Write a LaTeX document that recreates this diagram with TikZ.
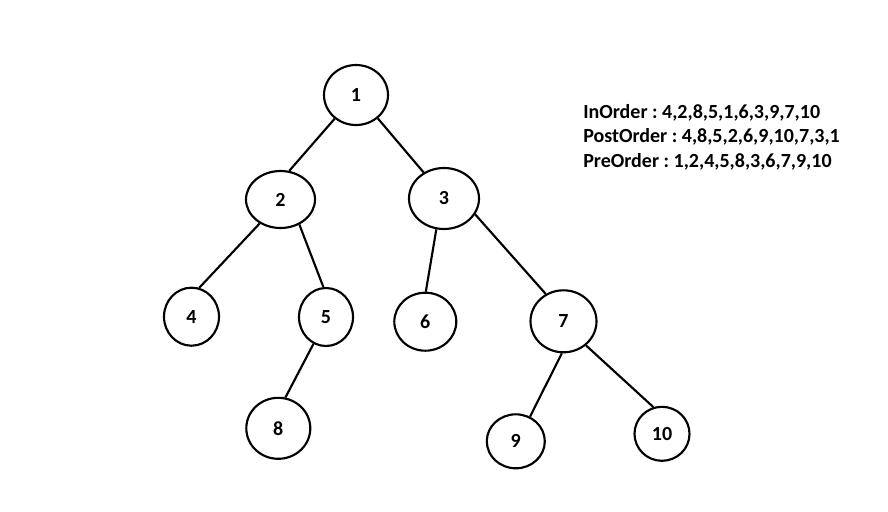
\documentclass[tikz,border=0pt]{standalone}
\usepackage{fontspec}
\setmainfont{Carlito}
\frenchspacing
\usetikzlibrary{shapes.geometric}
\begin{document}
\begin{tikzpicture}[x=0.75pt,y=-0.75pt,
  tnode/.style 2 args={draw=black, line width=1.6pt, ellipse, inner sep=0pt,
    minimum width=#1*0.75pt, minimum height=#2*0.75pt,
    font=\fontsize{15}{18}\selectfont\bfseries},
  tedge/.style={draw=black, line width=1.6pt},
  trav/.style={anchor=base west, inner sep=0pt,
    font=\fontsize{15}{18}\selectfont\bfseries}]
\useasboundingbox (0,0) rectangle (888,511);
\fill[white] (0,0) rectangle (888,511);

% tree nodes
\node[tnode={64}{60}] (n1)  at (356,95)      {1};
\node[tnode={69}{57}] (n2)  at (280.5,199.5) {2};
\node[tnode={70}{61}] (n3)  at (444,198.5)   {3};
\node[tnode={55}{58}] (n4)  at (191.5,316.7) {4};
\node[tnode={54}{58}] (n5)  at (326,317)     {5};
\node[tnode={62}{58}] (n6)  at (425.3,321.7) {6};
\node[tnode={66}{62}] (n7)  at (563.5,321.3) {7};
\node[tnode={64}{61}] (n8)  at (278.3,428.3) {8};
\node[tnode={58}{54}] (n9)  at (515.8,441.3) {9};
\node[tnode={55}{54}] (n10) at (662,433.8)   {10};

% parent-child links
\draw[tedge] (n1.228) -- (n2.73);
\draw[tedge] (n1.313) -- (n3.128);
\draw[tedge] (n2.229) -- (n4.75);
\draw[tedge] (n2.307) -- (n5.95);
\draw[tedge] (n5.245) -- (n8.77);
\draw[tedge] (n3.256) -- (n6.89);
\draw[tedge] (n3.333) -- (n7.123);
\draw[tedge] (n7.267) -- (n9.60);
\draw[tedge] (n7.313) -- (n10.108);

% traversal orders
\node[trav] (tin)   at (583,118.3) {InOrder : 4,2,8,5,1,6,3,9,7,10};
\node[trav] (tpost) at (583,142.7) {PostOrder : 4,8,5,2,6,9,10,7,3,1};
\node[trav] (tpre)  at (583,167.7) {PreOrder : 1,2,4,5,8,3,6,7,9,10};
\end{tikzpicture}
\end{document}
